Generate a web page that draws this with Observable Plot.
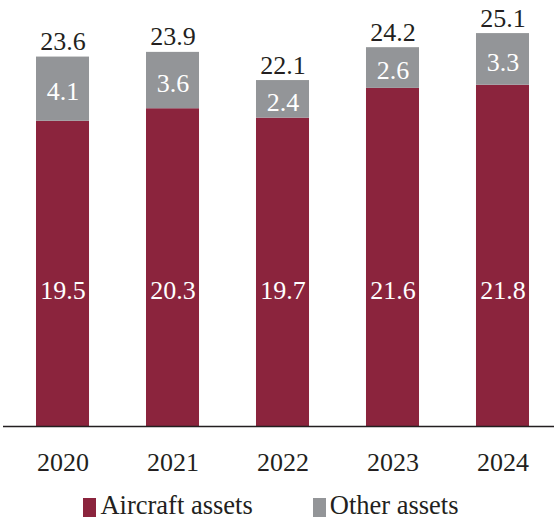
<!DOCTYPE html>
<html>
<head>
<meta charset="utf-8">
<script src="https://cdn.jsdelivr.net/npm/d3@7"></script>
<script src="https://cdn.jsdelivr.net/npm/@observablehq/plot@0.6"></script>
<style>
  html, body { margin: 0; padding: 0; background: #fff; }
  #chart { width: 554px; font-family: "Liberation Serif", "Times New Roman", serif; }
  .legend { display: flex; justify-content: center; gap: 60px; font-size: 26.5px; color: #231f20; margin-top: 13px; margin-left: -12px; line-height: 29px; height: 29px; }
  .legend span.item { display: inline-flex; align-items: center; }
  .legend span.sw { display: inline-block; width: 13px; height: 19px; margin-right: 4px; position: relative; top: 2px; }
</style>
</head>
<body>
<div id="chart"></div>
<script>
const years = ["2020", "2021", "2022", "2023", "2024"];
const aircraft = [19.5, 20.3, 19.7, 21.6, 21.8];
const other = [4.1, 3.6, 2.4, 2.6, 3.3];
const totals = [23.6, 23.9, 22.1, 24.2, 25.1];
const seriesNames = ["Aircraft assets", "Other assets"];
const colors = ["#8b243d", "#939598"];

const rows = [];
years.forEach((y, i) => {
  rows.push({year: y, series: seriesNames[0], value: aircraft[i]});
  rows.push({year: y, series: seriesNames[1], value: other[i]});
});
const otherMid = years.map((y, i) => ({year: y, mid: aircraft[i] + other[i] / 2, label: other[i].toFixed(1)}));
const airLab = years.map((y, i) => ({year: y, label: aircraft[i].toFixed(1)}));
const totLab = years.map((y, i) => ({year: y, total: totals[i], label: totals[i].toFixed(1)}));

const chart = Plot.plot({
  width: 554,
  height: 478,
  marginTop: 19,
  marginBottom: 52,
  marginLeft: 3,
  marginRight: 0,
  style: {fontFamily: "'Liberation Serif', 'Times New Roman', serif", fontSize: "26px", color: "#231f20", background: "#fff"},
  x: {domain: years, range: [3, 554], round: false, paddingInner: 0.518, paddingOuter: 0.2636, align: 0.569, label: null, tickSize: 0, tickPadding: 26, fontSize: 26},
  y: {domain: [0, 26], axis: null},
  color: {domain: seriesNames, range: colors},
  marks: [
    Plot.barY(rows, {x: "year", y: "value", fill: "series", order: seriesNames}),
    Plot.text(airLab, {x: "year", y: 8.7, text: "label", fill: "#fff", fontSize: 26}),
    Plot.text(otherMid, {x: "year", y: "mid", text: "label", fill: "#fff", fontSize: 26, dy: 3}),
    Plot.text(totLab, {x: "year", y: "total", text: "label", fill: "#231f20", fontSize: 26, lineAnchor: "bottom", dy: -7}),
    Plot.ruleY([0], {stroke: "#231f20", strokeWidth: 1.5})
  ]
});
document.getElementById("chart").appendChild(chart);

const legend = document.createElement("div");
legend.className = "legend";
seriesNames.forEach((n, i) => {
  const it = document.createElement("span");
  it.className = "item";
  const sw = document.createElement("span");
  sw.className = "sw";
  sw.style.background = colors[i];
  it.appendChild(sw);
  it.appendChild(document.createTextNode(n));
  legend.appendChild(it);
});
document.getElementById("chart").appendChild(legend);
</script>
</body>
</html>
